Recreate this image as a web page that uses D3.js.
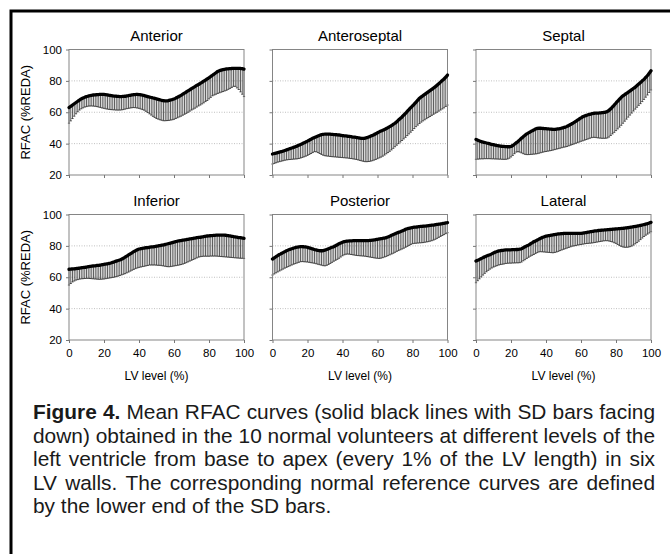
<!DOCTYPE html>
<html lang="en">
<head>
<meta charset="UTF-8">
<title>Figure 4 - RFAC curves</title>
<script src="https://d3js.org/d3.v7.min.js"></script>
<style>
    body { margin: 0; background: #fff; }
    svg { display: block; font-family: "Liberation Sans", Arial, Helvetica, sans-serif; }
    .tick text { font-size: 11.5px; fill: #000; }
    .tick line { stroke: #777; }
</style>
</head>
<body>
<svg id="fig" width="670" height="554"></svg>
<script>
// LV level, every 1% from base (0) to apex (100)
const lvLevels = d3.range(0, 101);
const xTicks = [0, 20, 40, 60, 80, 100];
const yTicks = [20, 40, 60, 80, 100];
const gridValues = [40, 60, 80];
const wallNames = ['Anterior', 'Anteroseptal', 'Septal', 'Inferior', 'Posterior', 'Lateral'];

// mean RFAC (%REDA) per 1% level
const anteriorMean = [63,63.8,64.6,65.4,66.2,67,67.8,68.5,69.1,69.6,70,
    70.3,70.6,70.8,71,71.1,71.2,71.3,71.4,71.4,71.4,
    71.2,71,70.8,70.6,70.4,70.3,70.2,70.1,70,70,
    70.1,70.2,70.4,70.6,70.8,71,71.2,71.3,71.4,71.3,
    71.1,70.9,70.6,70.3,70,69.7,69.4,69.1,68.8,68.5,
    68.2,67.9,67.6,67.4,67.3,67.3,67.5,67.8,68.1,68.5,
    69,69.6,70.2,70.8,71.5,72.2,72.9,73.6,74.3,75,
    75.7,76.4,77.1,77.7,78.4,79.1,79.8,80.5,81.2,82,
    82.8,83.6,84.4,85.2,86,86.5,86.9,87.2,87.4,87.6,
    87.7,87.8,87.9,88,88,88,88,87.9,87.8,87.5];
// lower end of the SD bars
const anteriorLower = [53,54.5,56,57.5,59,60.3,61.4,62.2,62.8,63.3,63.6,
    63.9,64,64,63.9,63.8,63.6,63.3,63,62.7,62.5,
    62.2,62,61.8,61.7,61.6,61.5,61.4,61.4,61.4,61.5,
    61.7,62,62.3,62.5,62.7,62.9,63,62.9,62.7,62.5,
    62.1,61.7,61.3,60.6,59.8,59,58.2,57.4,56.7,56,
    55.6,55.2,54.9,54.6,54.6,54.7,54.8,55,55.2,55.5,
    56,56.5,57,57.5,58.1,58.7,59.3,60,60.7,61.4,
    62,62.6,63.3,64,64.6,65.3,66,66.8,67.5,68.5,
    69.5,70.5,71,71.5,72,72.4,72.8,73.2,73.6,74,
    74.6,75.2,75.8,76.5,76.5,75.5,74.5,73,71.5,70];

const anteroseptalMean = [33.4,33.7,34,34.3,34.6,34.9,35.2,35.6,36,36.4,36.8,
    37.2,37.6,38,38.4,38.9,39.4,39.9,40.5,41,41.6,
    42.2,42.8,43.4,43.9,44.4,44.9,45.3,45.7,45.9,46.1,
    46.1,46.1,46,45.9,45.8,45.7,45.6,45.5,45.3,45.1,
    45,44.9,44.7,44.6,44.4,44.2,44.1,43.9,43.7,43.5,
    43.4,43.4,43.5,43.8,44.2,44.7,45.2,45.7,46.3,46.9,
    47.5,48,48.5,49,49.6,50.2,50.8,51.5,52.3,53,
    54,55,56,57,58.2,59.3,60.5,61.7,62.9,64,
    65.2,66.5,67.7,68.9,69.8,70.6,71.4,72.2,73,73.8,
    74.6,75.4,76.2,77.2,78.2,79.2,80.2,81.2,82.4,83.7];
const anteroseptalLower = [27,27.4,27.8,28.2,28.5,28.8,29.1,29.4,29.6,29.8,29.9,
    30,30.1,30.2,30.3,30.5,30.8,31.2,31.6,32,32.5,
    33.1,33.7,34.3,34.9,34.8,34.3,33.7,33.1,32.6,32.3,
    32.1,32,31.8,31.7,31.6,31.5,31.4,31.3,31.2,31.1,
    31,30.9,30.8,30.6,30.5,30.3,30.1,29.9,29.6,29.3,
    29,28.7,28.5,28.5,28.6,28.8,29.1,29.5,29.9,30.4,
    30.9,31.4,32,32.7,33.5,34.3,35.1,36,37,38,
    39,40,41,42,43,44,45.1,46.2,47.3,48.4,
    49.6,50.8,51.8,52.8,53.7,54.5,55.2,55.9,56.6,57.3,
    58,58.7,59.4,60,60.7,61.4,62.1,62.8,63.7,64.6];

const septalMean = [42.7,42.2,41.7,41.3,41,40.7,40.4,40.1,39.8,39.5,39.3,
    39,38.8,38.6,38.4,38.3,38.2,38.1,38,38,38.2,
    38.8,39.6,40.5,41.4,42.4,43.4,44.4,45.3,46.2,46.9,
    47.5,48.1,48.7,49.3,49.7,49.8,49.8,49.7,49.6,49.5,
    49.4,49.3,49.2,49.1,49.1,49.2,49.4,49.6,49.9,50.2,
    50.5,51,51.6,52.2,52.8,53.5,54.2,55,55.7,56.4,
    57.1,57.6,58,58.4,58.7,59,59.3,59.4,59.5,59.5,
    59.6,59.7,59.9,60.1,60.5,61.2,62.2,63.4,64.6,65.9,
    67.1,68.3,69.5,70.5,71.3,72,72.8,73.6,74.4,75.2,
    76,77,78,79,80,81,82.2,83.4,84.9,86.4];
const septalLower = [30,30.1,30.2,30.3,30.3,30.4,30.4,30.4,30.4,30.3,30.3,
    30.2,30.2,30.1,30.1,30,30,30,30.2,30.7,31.5,
    32.5,33.6,34.6,34.9,34.6,34.1,33.6,33.2,33,33,
    33.1,33.2,33.3,33.4,33.6,33.9,34.2,34.5,34.8,35,
    35.2,35.4,35.6,35.9,36.2,36.5,36.8,37.1,37.4,37.7,
    37.9,38.2,38.6,39,39.4,39.8,40.2,40.6,41,41.5,
    41.8,42.2,42.6,43,43.4,43.8,44,44,43.8,43.6,
    43.5,43.4,43.4,43.4,43.6,44.2,45.2,46.2,47.2,48.3,
    49.4,50.5,51.7,53,54.3,55.6,56.9,58.2,59.5,60.8,
    62,63.2,64.4,65.5,66.8,68.2,69.6,71,72.6,74.2];

const inferiorMean = [65.1,65.2,65.3,65.4,65.5,65.7,65.8,66,66.2,66.3,66.5,
    66.7,66.9,67.1,67.2,67.3,67.5,67.6,67.8,68,68.2,
    68.4,68.6,68.8,69.1,69.5,69.9,70.3,70.7,71,71.5,
    72.1,72.8,73.5,74.2,74.9,75.6,76.3,76.9,77.5,78,
    78.2,78.4,78.6,78.8,78.9,79.1,79.3,79.4,79.6,79.8,
    80,80.2,80.4,80.6,80.9,81.2,81.5,81.8,82.1,82.4,
    82.7,83,83.2,83.4,83.6,83.8,84,84.2,84.4,84.6,
    84.8,85,85.2,85.4,85.5,85.7,85.9,86.1,86.3,86.4,
    86.5,86.6,86.7,86.8,86.9,86.9,86.9,86.9,86.8,86.7,
    86.5,86.3,86.1,85.9,85.7,85.5,85.3,85.2,85,84.8];
const inferiorLower = [55,56,57,57.6,58.2,58.5,58.8,59,59.1,59.2,59.3,
    59.3,59.2,59.1,59,58.9,58.8,58.7,58.7,58.8,58.9,
    59.1,59.3,59.5,59.7,59.9,60.1,60.4,60.7,61.1,61.5,
    61.9,62.3,62.8,63.3,63.9,64.5,65,65.5,65.9,66.3,
    66.5,66.8,67,67.3,67.5,67.8,67.8,67.8,67.8,67.7,
    67.6,67.6,67.4,67.2,67,66.8,66.7,66.8,67,67.2,
    67.4,67.6,67.8,68.1,68.4,68.8,69.3,69.8,70.3,70.8,
    71.3,71.8,72.3,72.8,73.1,73.3,73.4,73.4,73.4,73.4,
    73.5,73.5,73.5,73.5,73.4,73.3,73.2,73.1,73,72.9,
    72.8,72.7,72.6,72.5,72.4,72.3,72.2,72.1,72.1,72];

const posteriorMean = [71.6,72.4,73.1,73.8,74.5,75.1,75.7,76.3,76.9,77.4,77.8,
    78.2,78.6,78.9,79.2,79.4,79.5,79.5,79.4,79.3,79,
    78.7,78.4,78.1,77.7,77.4,77.1,76.9,76.9,77,77.3,
    77.7,78.2,78.7,79.1,79.5,80.1,80.7,81.3,81.8,82.3,
    82.7,82.9,83.1,83.2,83.2,83.3,83.3,83.3,83.3,83.3,
    83.3,83.3,83.3,83.3,83.4,83.5,83.6,83.8,84,84.2,
    84.4,84.6,84.8,85,85.3,85.7,86.2,86.7,87.2,87.7,
    88.2,88.6,89,89.5,90,90.5,90.9,91.2,91.5,91.7,
    91.9,92,92.1,92.3,92.4,92.5,92.6,92.7,92.9,93,
    93.2,93.3,93.5,93.7,93.8,94,94.2,94.4,94.6,94.8];
const posteriorLower = [61.4,62.1,62.8,63.4,64,64.6,65.2,65.8,66.3,66.8,67.3,
    67.8,68.3,68.7,69.1,69.5,69.9,70,69.9,69.8,69.7,
    69.5,69.3,69.1,68.9,68.6,68.3,68,67.7,67.4,67.3,
    67.6,68.1,68.8,69.5,70.2,70.8,71.4,72.1,72.9,73.7,
    74.3,74.7,74.8,74.7,74.5,74.3,74.1,73.9,73.8,73.7,
    73.6,73.5,73.4,73.2,73,72.8,72.6,72.4,72.2,72.1,
    72,72.2,72.5,72.9,73.3,73.8,74.3,74.8,75.3,75.9,
    76.5,77,77.5,78,78.5,79.1,79.7,80.3,80.9,81.4,
    81.6,81.7,81.8,81.9,82,82.1,82.3,82.5,82.7,83,
    83.3,83.7,84.2,84.8,85.4,86,86.6,87.2,87.8,88.4];

const lateralMean = [70.3,70.8,71.4,71.9,72.5,73,73.5,74,74.4,74.9,75.5,
    76,76.4,76.8,77,77.1,77.3,77.4,77.4,77.5,77.5,
    77.6,77.6,77.7,77.7,77.9,78.2,78.8,79.4,80,80.5,
    81.2,81.9,82.6,83.1,83.7,84.3,84.9,85.4,85.8,86.2,
    86.4,86.6,86.8,87,87.2,87.4,87.6,87.7,87.8,87.9,
    88,88,88,88,88,88,88,88,88,88,
    88.1,88.3,88.5,88.7,88.9,89.1,89.3,89.5,89.6,89.8,
    89.9,90,90.1,90.2,90.3,90.4,90.5,90.6,90.7,90.8,
    90.9,91,91.1,91.2,91.3,91.5,91.6,91.8,92,92.2,
    92.4,92.6,92.8,93,93.3,93.6,93.9,94.2,94.6,95];
const lateralLower = [56.5,57.8,59,60.2,61.4,62.5,63.5,64.4,65.2,65.9,66.5,
    67,67.4,67.8,68.1,68.3,68.5,68.8,68.9,69,69,
    69.1,69.1,69.2,69.2,69.3,69.7,70.5,71.2,72,72.7,
    73.4,74,74.5,75.1,75.7,76.2,76.3,76.2,76.1,76,
    75.9,75.8,75.7,75.6,75.8,76.1,76.5,77,77.4,77.8,
    78.2,78.6,79,79.4,79.8,80,80.2,80.5,80.7,80.9,
    81.1,81.3,81.5,81.6,81.7,81.8,82,82.2,82.4,82.6,
    82.8,83,83.2,83.3,83.3,83.1,82.8,82.5,82,81.6,
    80.9,80.2,79.7,79.3,79.1,79.1,79.2,79.5,79.9,80.5,
    81.3,82.1,83,84,85,86,86.8,87.5,88.2,89];

const captionLines = [
    'Figure 4. Mean RFAC curves (solid black lines with SD bars facing',
    'down) obtained in the 10 normal volunteers at different levels of the',
    'left ventricle from base to apex (every 1% of the LV length) in six',
    'LV walls. The corresponding normal reference curves are defined',
    'by the lower end of the SD bars.'
];

const panels = [
    { name: wallNames[0], mean: anteriorMean, lower: anteriorLower },
    { name: wallNames[1], mean: anteroseptalMean, lower: anteroseptalLower },
    { name: wallNames[2], mean: septalMean, lower: septalLower },
    { name: wallNames[3], mean: inferiorMean, lower: inferiorLower },
    { name: wallNames[4], mean: posteriorMean, lower: posteriorLower },
    { name: wallNames[5], mean: lateralMean, lower: lateralLower }
];

const svg = d3.select('#fig');

// outer figure frame (open towards right/bottom edge of the image)
svg.append('rect')
    .attr('x', 11).attr('y', 11)
    .attr('width', 700).attr('height', 600)
    .attr('fill', 'none').attr('stroke', '#000').attr('stroke-width', 3);

const plotW = 175, plotH = 125.5;
const colX = [69, 272.5, 476];
const rowY = [49.5, 214.5];

const x = d3.scaleLinear().domain([0, 100]).range([0, plotW]);
const y = d3.scaleLinear().domain([20, 100]).range([plotH, 0]);

panels.forEach((p, i) => {
    const col = i % 3, row = Math.floor(i / 3);
    const g = svg.append('g').attr('transform', `translate(${colX[col]},${rowY[row]})`);

    // dotted grid
    g.selectAll('.grid').data(gridValues).enter().append('line')
        .attr('x1', 0).attr('x2', plotW)
        .attr('y1', d => y(d)).attr('y2', d => y(d))
        .attr('stroke', '#b0b0b0').attr('stroke-width', 0.8)
        .attr('stroke-dasharray', '1,1.5');

    // SD bars (facing down) with small caps
    const pts = lvLevels.map(k => ({ lv: k, m: p.mean[k], lo: p.lower[k] }));
    g.append('g').selectAll('line').data(pts).enter().append('line')
        .attr('x1', d => x(d.lv)).attr('x2', d => x(d.lv))
        .attr('y1', d => y(d.m)).attr('y2', d => y(d.lo))
        .attr('stroke', '#2a2a2a').attr('stroke-width', 0.75);
    g.append('g').selectAll('line').data(pts).enter().append('line')
        .attr('x1', d => x(d.lv) - 1.1).attr('x2', d => x(d.lv) + 1.1)
        .attr('y1', d => y(d.lo)).attr('y2', d => y(d.lo))
        .attr('stroke', '#2a2a2a').attr('stroke-width', 0.8);

    // frame of the plot area
    g.append('rect').attr('width', plotW).attr('height', plotH)
        .attr('fill', 'none').attr('stroke', '#858585').attr('stroke-width', 1);

    // mean curve
    const line = d3.line().x(d => x(d.lv)).y(d => y(d.m)).curve(d3.curveMonotoneX);
    g.append('path').datum(pts).attr('d', line)
        .attr('fill', 'none').attr('stroke', '#000')
        .attr('stroke-width', 3.3).attr('stroke-linecap', 'round').attr('stroke-linejoin', 'round');

    // axes
    const yAxis = d3.axisLeft(y).tickValues(yTicks).tickSize(3).tickPadding(4)
        .tickFormat(col === 0 ? d3.format('d') : () => '');
    const ya = g.append('g').call(yAxis);
    ya.select('.domain').remove();

    const xAxis = d3.axisBottom(x).tickValues(xTicks).tickSize(3).tickPadding(6)
        .tickFormat(row === 1 ? d3.format('d') : () => '');
    const xa = g.append('g').attr('transform', `translate(0,${plotH})`).call(xAxis);
    xa.select('.domain').remove();

    // wall title
    g.append('text').attr('x', plotW / 2).attr('y', -9)
        .attr('text-anchor', 'middle').attr('font-size', '15px').text(p.name);

    if (row === 1) {
        g.append('text').attr('x', plotW / 2).attr('y', plotH + 39.5)
            .attr('text-anchor', 'middle').attr('font-size', '12px').text('LV level (%)');
    }
    if (col === 0) {
        g.append('text')
            .attr('transform', `translate(-39,${plotH / 2}) rotate(-90)`)
            .attr('text-anchor', 'middle').attr('font-size', '13px')
            .text('RFAC (%REDA)');
    }
});

// caption, justified word by word
const capLeft = 33, capRight = 655;
const capBase = [419, 442.5, 466, 489.5, 513];
const capG = svg.append('g').attr('fill', '#1a1a1a');

// fit the font size so the fullest justified line uses normal word spacing
function measure(size) {
    const t = capG.append('text').attr('font-size', size + 'px');
    const widths = captionLines.slice(0, 4).map((s, li) => {
        if (li === 0) {
            t.text('Figure 4.').attr('font-weight', 'bold');
            const a = t.node().getComputedTextLength();
            t.text(' ' + s.slice(10)).attr('font-weight', null);
            return a + t.node().getComputedTextLength();
        }
        t.text(s);
        return t.node().getComputedTextLength();
    });
    t.remove();
    return d3.max(widths);
}
const capSize = Math.min(21, 20 * (capRight - capLeft) / measure(20));
capG.attr('font-size', capSize + 'px');

captionLines.forEach((txt, li) => {
    const words = txt.split(' ');
    const nodes = words.map((w, wi) => capG.append('text')
        .attr('y', capBase[li])
        .attr('font-weight', li === 0 && wi < 2 ? 'bold' : null)
        .text(w));
    const widths = nodes.map(n => n.node().getComputedTextLength());
    const total = d3.sum(widths);
    const last = li === captionLines.length - 1;
    const gap = last ? capSize * 0.278 : (capRight - capLeft - total) / (words.length - 1);
    let cx = capLeft;
    nodes.forEach((n, wi) => {
        n.attr('x', cx);
        cx += widths[wi] + gap;
    });
});
</script>
</body>
</html>
